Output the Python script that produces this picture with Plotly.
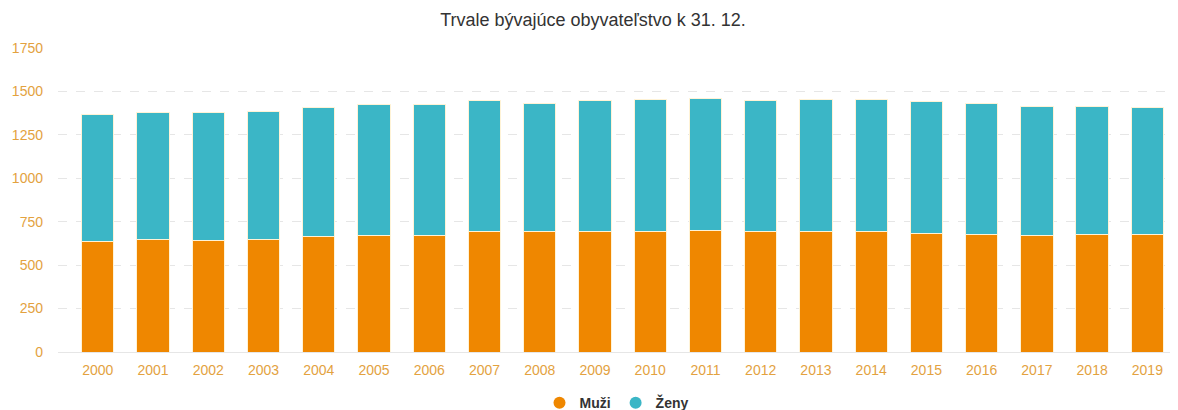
import plotly.graph_objects as go

years = [str(y) for y in range(2000, 2020)]
total = [1366, 1379, 1378, 1387, 1408, 1427, 1425, 1450, 1433, 1445,
         1456, 1462, 1450, 1456, 1456, 1441, 1433, 1414, 1414, 1408]
muzi = [639, 645, 643, 650, 663, 673, 672, 692, 691, 696,
        696, 698, 696, 691, 696, 685, 679, 673, 679, 679]
zeny = [t - m for t, m in zip(total, muzi)]

c_m = "#EF8700"
c_z = "#3BB6C6"
axis_col = "#E3A23F"

fig = go.Figure()
fig.add_trace(go.Bar(x=years, y=muzi, name="Muži", marker=dict(color=c_m, line=dict(color="#FFF3D6", width=1)),
                     showlegend=False))
fig.add_trace(go.Bar(x=years, y=zeny, name="Ženy", marker=dict(color=c_z, line=dict(color="#FFF3D6", width=1)),
                     showlegend=False))
for nm, c in [("Muži", c_m), ("Ženy", c_z)]:
    fig.add_trace(go.Scatter(x=[None], y=[None], mode="markers", name="<b>" + nm + "</b>",
                             marker=dict(symbol="circle", size=12, color=c)))

# page body has an 8px margin, so the figure is 8px smaller and everything shifted by 8px
fig.update_layout(
    barmode="stack",
    bargap=0.415,
    width=1170, height=402,
    margin=dict(l=50, r=3, t=40, b=58, autoexpand=False),
    paper_bgcolor="white", plot_bgcolor="white",
    font=dict(family="Liberation Sans, Arial, sans-serif"),
    title=dict(text="Trvale bývajúce obyvateľstvo k 31. 12.", x=0.5, xanchor="center",
               yref="container", y=0.970, yanchor="middle", font=dict(size=18, color="#333333")),
    legend=dict(orientation="h", x=0.5, xanchor="center", y=-0.168, yanchor="middle",
                traceorder="normal",
                font=dict(size=14, color="#333333", family="Liberation Sans, Arial, sans-serif"),
                itemwidth=30),
    xaxis=dict(range=[-0.72, 19.5], tickfont=dict(size=14, color=axis_col), showgrid=False,
               ticks="", showline=False, automargin=False, ticklabelstandoff=8),
    yaxis=dict(range=[0, 1750], tickvals=[0, 250, 500, 750, 1000, 1250, 1500, 1750],
               tickfont=dict(size=14, color=axis_col), showgrid=True, gridcolor="#E6E6E6",
               griddash="dash", zeroline=True, zerolinecolor="#E6E6E6", zerolinewidth=1,
               ticklabelstandoff=14, automargin=False),
)

fig.write_html("out.html")
